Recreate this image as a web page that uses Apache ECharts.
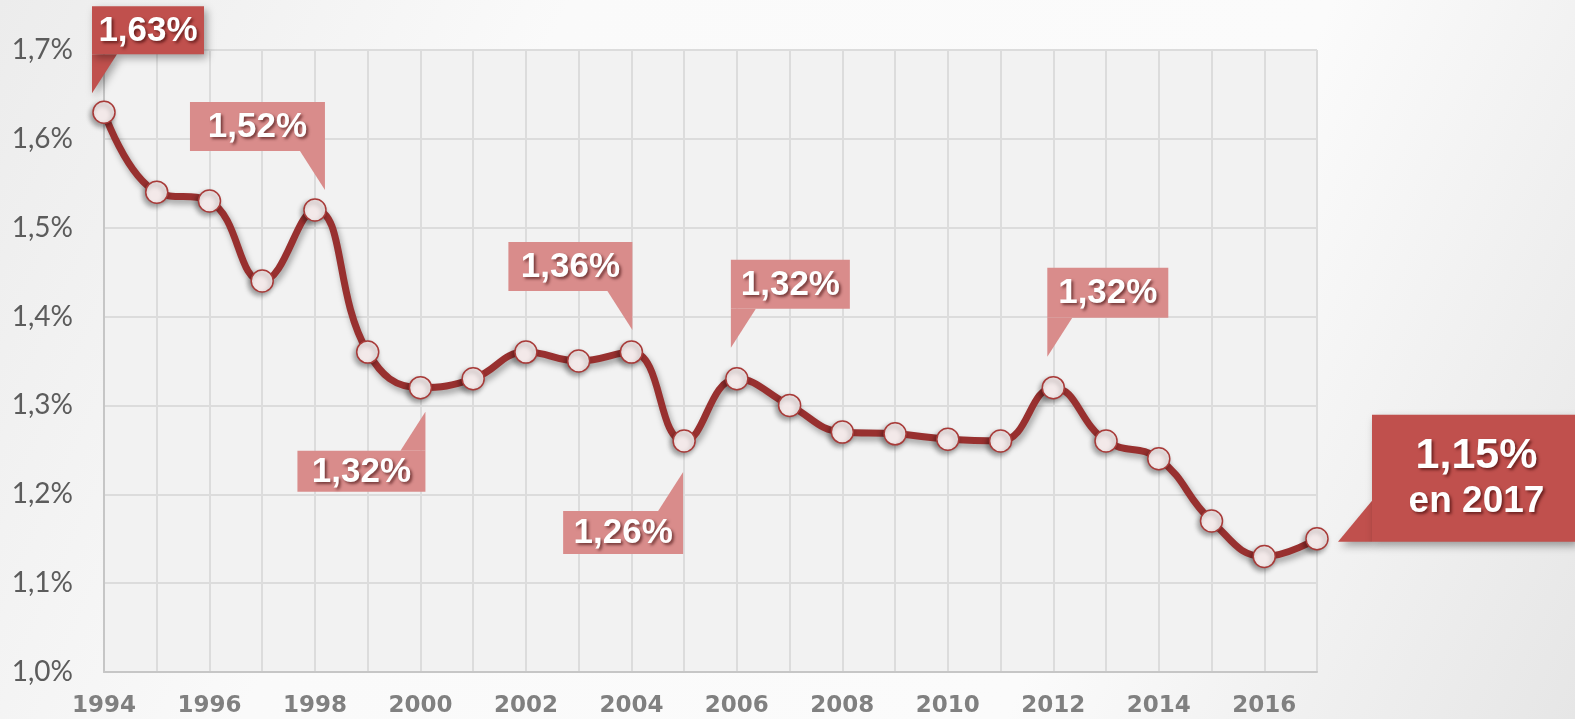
<!DOCTYPE html>
<html>
<head>
<meta charset="utf-8">
<script src="https://cdn.jsdelivr.net/npm/echarts@6/dist/echarts.min.js"></script>
<style>
  html, body { margin: 0; padding: 0; }
  #chart { width: 1575px; height: 719px; }
</style>
</head>
<body>
<div id="chart"></div>
<script>
// data
const years = ['1994', '1995', '1996', '1997', '1998', '1999', '2000', '2001', '2002', '2003', '2004', '2005',
               '2006', '2007', '2008', '2009', '2010', '2011', '2012', '2013', '2014', '2015', '2016', '2017'];
const rates = [1.63, 1.54, 1.53, 1.44, 1.52, 1.36, 1.32, 1.33, 1.36, 1.35, 1.36, 1.26,
               1.33, 1.30, 1.27, 1.268, 1.262, 1.26, 1.32, 1.26, 1.24, 1.17, 1.13, 1.15];
const calloutYears = ['1994', '1998', '2000', '2004', '2005', '2006', '2012', '2017'];
const calloutTexts = ['1,63%', '1,52%', '1,32%', '1,36%', '1,26%', '1,32%', '1,32%', '1,15%\nen 2017'];

// how each callout sits around its point
const calloutLayout = [
    {kind: 'upLeft', tip: [-12, -19], w: 112, h: 48, dark: true},
    {kind: 'upRight', tip: [10, -20], w: 135, h: 49},
    {kind: 'downRight', tip: [5, 24], w: 128, h: 41},
    {kind: 'upRight', tip: [1, -22], w: 124, h: 49},
    {kind: 'downRight', tip: [-1, 31], w: 120, h: 43},
    {kind: 'upLeft', tip: [-6, -31], w: 119, h: 49},
    {kind: 'upLeft', tip: [-6, -31], w: 121, h: 50},
    {kind: 'side', tip: [21, 3], w: 203, h: 127, dark: true},
];

const DARK = '#c0504d';
const LIGHT = '#d98c8b';
const LINE = '#98302f';

const chart = echarts.init(document.getElementById('chart'));

chart.setOption({
    backgroundColor: new echarts.graphic.LinearGradient(0, 0, 1, 1, [
        {offset: 0, color: '#ececec'},
        {offset: 0.3, color: '#fafafa'},
        {offset: 0.7, color: '#fbfbfb'},
        {offset: 1, color: '#e6e6e6'},
    ]),
    animation: false,
    grid: {
        left: 104, right: 258, top: 50, bottom: 47,
        show: true,
        backgroundColor: '#f2f2f2',
        borderWidth: 0,
    },
    xAxis: {
        type: 'category',
        data: years,
        boundaryGap: false,
        axisLine: {lineStyle: {color: '#c6c6c6', width: 2}},
        axisTick: {show: false},
        splitLine: {show: true, interval: 0, lineStyle: {color: '#dcdcdc', width: 2}},
        axisLabel: {
            interval: 1,
            margin: 23,
            color: '#808080',
            fontFamily: 'DejaVu Sans',
            fontWeight: 'bold',
            fontSize: 23,
        },
    },
    yAxis: {
        type: 'value',
        min: 1.0,
        max: 1.7,
        interval: 0.1,
        axisLine: {show: true, lineStyle: {color: '#c6c6c6', width: 2}},
        axisTick: {show: false},
        splitLine: {lineStyle: {color: '#dcdcdc', width: 2}},
        axisLabel: {
            margin: 31,
            color: '#5c5c5c',
            fontFamily: 'Lato',
            fontSize: 28,
            formatter: v => v.toFixed(1).replace('.', ',') + '%',
        },
    },
    series: [{
        type: 'line',
        data: rates,
        smooth: 0.45,
        symbol: 'circle',
        symbolSize: 22,
        z: 5,
        lineStyle: {
            color: LINE,
            width: 7,
            shadowColor: 'rgba(0,0,0,0.35)',
            shadowBlur: 6,
            shadowOffsetX: 2,
            shadowOffsetY: 4,
        },
        itemStyle: {
            color: '#f3e9e9',
            borderColor: '#a83a38',
            borderWidth: 1.5,
            shadowColor: 'rgba(0,0,0,0.35)',
            shadowBlur: 5,
            shadowOffsetX: -2,
            shadowOffsetY: 3,
        },
    }],
});

// callouts: anchored to the data points through the chart's own scales
const GAP = 39;
const BASE = 25;
const graphics = [];
calloutYears.forEach((year, i) => {
    const value = rates[years.indexOf(year)];
    const p = chart.convertToPixel({gridIndex: 0}, [year, value]);
    const lay = calloutLayout[i];
    const tx = p[0] + lay.tip[0];
    const ty = p[1] + lay.tip[1];
    let box, tri;
    if (lay.kind === 'upLeft') {
        box = [tx, ty - GAP - lay.h];
        tri = [[tx, ty - GAP], [tx + BASE, ty - GAP], [tx, ty]];
    } else if (lay.kind === 'upRight') {
        box = [tx - lay.w, ty - GAP - lay.h];
        tri = [[tx - BASE, ty - GAP], [tx, ty - GAP], [tx, ty]];
    } else if (lay.kind === 'downRight') {
        box = [tx - lay.w, ty + GAP];
        tri = [[tx - BASE, ty + GAP], [tx, ty + GAP], [tx, ty]];
    } else {
        box = [tx + 34, ty - lay.h];
        tri = [[tx + 34, ty - 41], [tx + 34, ty], [tx, ty]];
    }
    const fill = lay.dark ? DARK : LIGHT;
    const shadow = lay.dark
        ? {shadowColor: 'rgba(0,0,0,0.35)', shadowBlur: 8, shadowOffsetX: 3, shadowOffsetY: 4}
        : {};
    graphics.push({
        type: 'polygon', z: 100, silent: true,
        shape: {points: tri},
        style: Object.assign({fill: fill}, shadow),
    });
    graphics.push({
        type: 'rect', z: 100, silent: true,
        shape: {x: box[0], y: box[1], width: lay.w, height: lay.h},
        style: Object.assign({fill: fill}, shadow),
    });
    const lines = calloutTexts[i].split('\n');
    const textStyle = {
        x: box[0] + lay.w / 2,
        y: box[1] + lay.h / 2 + 1,
        align: 'center',
        verticalAlign: 'middle',
        fill: '#ffffff',
        fontFamily: 'Liberation Sans',
        fontWeight: 'bold',
        fontSize: 35,
        textShadowColor: 'rgba(50,0,0,0.6)',
        textShadowBlur: 3,
        textShadowOffsetX: 2,
        textShadowOffsetY: 2,
    };
    if (lines.length > 1) {
        textStyle.x += 3;
        textStyle.text = '{a|' + lines[0] + '}\n{b|' + lines[1] + '}';
        textStyle.rich = {
            a: {fontSize: 43, lineHeight: 46, fontWeight: 'bold', fontFamily: 'Liberation Sans', fill: '#fff'},
            b: {fontSize: 37, lineHeight: 46, fontWeight: 'bold', fontFamily: 'Liberation Sans', fill: '#fff'},
        };
    } else {
        textStyle.text = lines[0];
    }
    graphics.push({type: 'text', z: 101, silent: true, style: textStyle});
});

chart.setOption({graphic: graphics});
</script>
</body>
</html>
